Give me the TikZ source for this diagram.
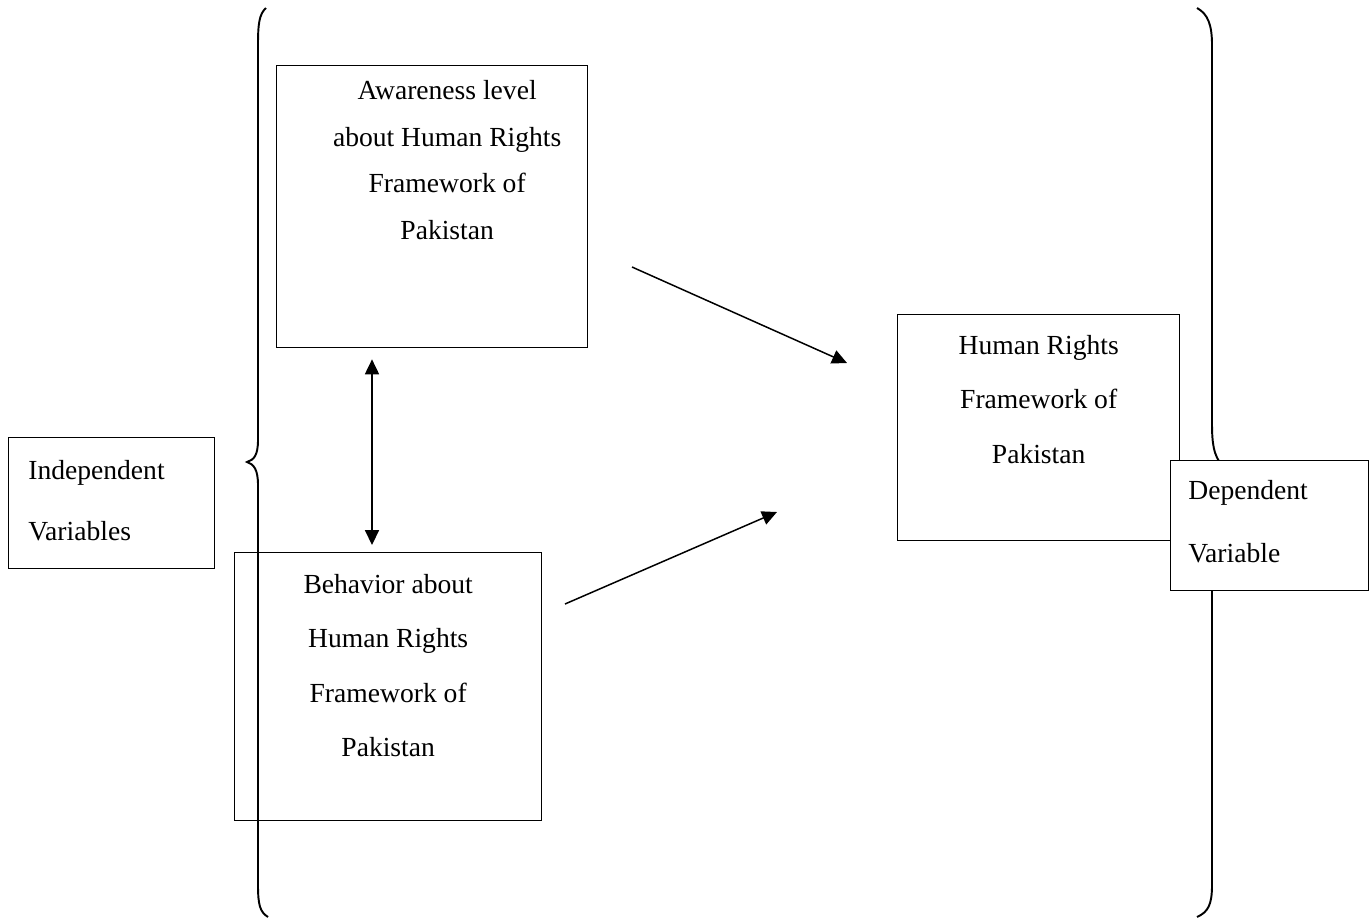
\documentclass[tikz,border=0pt]{standalone}
\usepackage{fontspec}
\setmainfont{Liberation Serif}
\usetikzlibrary{arrows.meta,calc}
\tikzset{
  box/.style={draw,line width=0.8pt,anchor=north west,inner sep=0pt},
  txt/.style={anchor=north,align=center,inner sep=0pt},
  brace/.style={line width=1.1pt},
  link/.style={line width=0.85pt}
}
\begin{document}
\begin{tikzpicture}[x=0.02cm,y=-0.02cm,>={Triangle[length=8.5pt,width=8pt]}]
  \useasboundingbox (0,0) rectangle (1369,920);
  \node[box,minimum width=6.22cm,minimum height=5.64cm] (aware) at (276,65) {};
  \node[box,minimum width=6.14cm,minimum height=5.36cm] (behav) at (234,552) {};
  \node[box,minimum width=4.12cm,minimum height=2.62cm] (indep) at (8,437) {};
  \node[box,minimum width=5.64cm,minimum height=4.52cm] (hrf) at (897,314) {};
  \node[txt,font=\fontsize{15.7}{26.6}\selectfont] (awaretxt) at ($(aware.north)+(15,15)$)
    {Awareness level\\about Human Rights\\Framework of\\Pakistan};
  \node[txt,font=\fontsize{15.7}{31}\selectfont] (behavtxt) at ($(behav.north)+(0,22)$)
    {Behavior about\\Human Rights\\Framework of\\Pakistan};
  \node[txt,anchor=north west,align=left,font=\fontsize{15.7}{34.6}\selectfont] (indeptxt)
    at ($(indep.north west)+(20,23)$) {Independent\\Variables};
  \node[txt,font=\fontsize{15.7}{31}\selectfont] (hrftxt) at ($(hrf.north)+(0,21)$)
    {Human Rights\\Framework of\\Pakistan};
  % braces
  \draw[brace] (266,8) .. controls (259,14) and (258,25) .. (258,45) -- (258,440)
    .. controls (258,455) and (254,460) .. (247,462)
    .. controls (254,464) and (258,470) .. (258,485) -- (258,885)
    .. controls (258,905) and (260,912) .. (268,917);
  \draw[brace] (1197,8) .. controls (1208,14) and (1212,25) .. (1212,45) -- (1212,425)
    .. controls (1212,450) and (1216,460) .. (1225,468)
    .. controls (1216,476) and (1212,486) .. (1212,510) -- (1212,885)
    .. controls (1212,905) and (1208,912) .. (1197,917);
  \node[box,fill=white,minimum width=3.96cm,minimum height=2.6cm] (dep) at (1170,460) {};
  \node[txt,anchor=north west,align=left,font=\fontsize{15.7}{35.7}\selectfont] (deptxt)
    at ($(dep.north west)+(18,20)$) {Dependent\\Variable};
  % arrows
  \coordinate (a1) at ($(aware.south west)+(96,11)$);
  \coordinate (b1) at ($(behav.north west)+(138,-7)$);
  \coordinate (a2) at (632,267);
  \coordinate (h1) at (847,363);
  \coordinate (b2) at (565,604);
  \coordinate (h2) at (777,512);
  \draw[link,<->] (a1) -- (b1);
  \draw[link,->] (a2) -- (h1);
  \draw[link,->] (b2) -- (h2);
\end{tikzpicture}
\end{document}
